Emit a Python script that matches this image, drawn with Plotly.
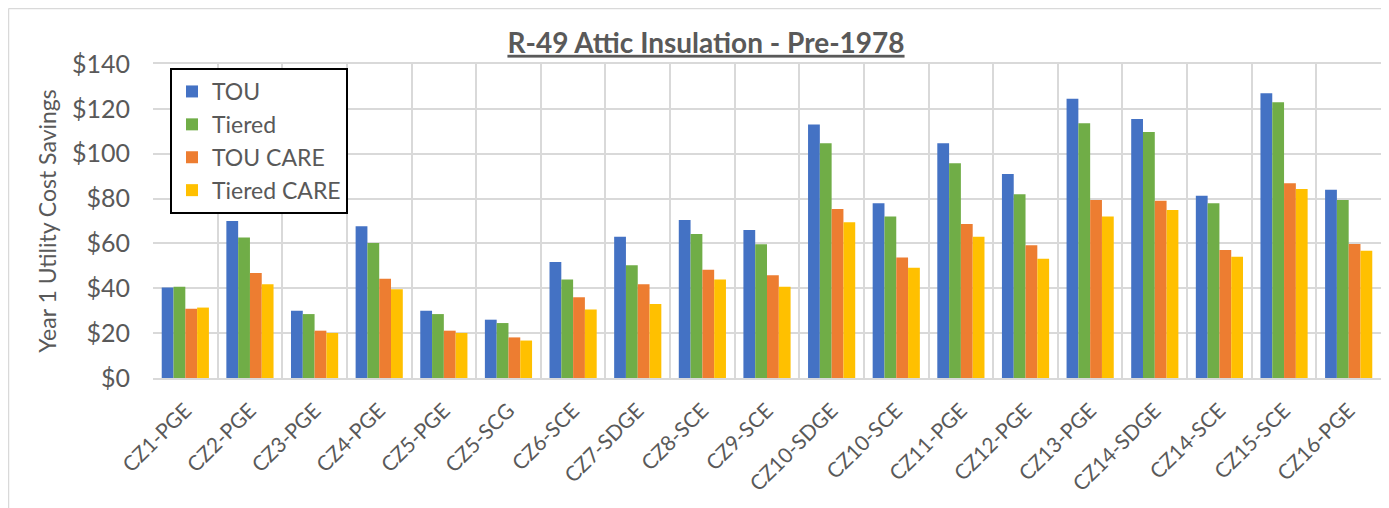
import plotly.graph_objects as go

categories = ["CZ1-PGE", "CZ2-PGE", "CZ3-PGE", "CZ4-PGE", "CZ5-PGE", "CZ5-SCG", "CZ6-SCE",
              "CZ7-SDGE", "CZ8-SCE", "CZ9-SCE", "CZ10-SDGE", "CZ10-SCE", "CZ11-PGE", "CZ12-PGE",
              "CZ13-PGE", "CZ14-SDGE", "CZ14-SCE", "CZ15-SCE", "CZ16-PGE"]
tou = [40.3, 70.0, 30.0, 67.7, 30.0, 26.0, 51.7, 63.0, 70.5, 66.0, 113.0, 77.9, 104.7, 90.9,
       124.5, 115.5, 81.3, 127.0, 83.9]
tiered = [40.7, 62.6, 28.5, 60.2, 28.5, 24.5, 43.9, 50.3, 64.2, 59.6, 104.7, 72.0, 95.8, 81.9,
          113.6, 109.7, 77.9, 123.0, 79.4]
tou_care = [30.9, 46.8, 21.1, 44.3, 21.1, 18.1, 36.0, 41.8, 48.3, 45.8, 75.4, 53.7, 68.7, 59.2,
            79.4, 79.0, 57.1, 86.8, 59.8]
tiered_care = [31.4, 41.8, 20.1, 39.6, 20.1, 16.7, 30.5, 33.0, 43.9, 40.7, 69.4, 49.2, 63.0, 53.2,
               72.0, 74.9, 54.1, 84.3, 56.7]

series = [("TOU", tou, "#4472C4"), ("Tiered", tiered, "#70AD47"),
          ("TOU CARE", tou_care, "#ED7D31"), ("Tiered CARE", tiered_care, "#FFC000")]

fig = go.Figure()
for name, vals, color in series:
    fig.add_trace(go.Bar(x=categories, y=vals, name=name, marker_color=color,
                         marker_line_width=0))

# page body has an 8px default margin: figure starts at (8, 8)
OFF = 8
W, H = 1389 - OFF, 508 - OFF
L, R, T, B = 153 - OFF, 8, 64 - OFF, 130
pw, ph = W - L - R, H - T - B
font = "Lato, Open Sans, sans-serif"
grey = "#595959"

def px_x(x):  # screenshot x -> paper x
    return (x - OFF - L) / pw

def px_y(y):  # screenshot y -> paper y
    return 1 - (y - OFF - T) / ph

fig.update_layout(
    width=W, height=H,
    margin=dict(l=L, r=R, t=T, b=B),
    paper_bgcolor="white", plot_bgcolor="white",
    barmode="group", bargap=0.27, bargroupgap=0,
    font=dict(family=font, color=grey),
    title=dict(text="<b><u>R-49 Attic Insulation - Pre-1978</u></b>", x=(706 - OFF) / W,
               xanchor="center", y=1 - (43 - OFF) / H, yanchor="middle",
               font=dict(size=28, color=grey, family=font)),
    legend=dict(x=px_x(170), y=px_y(68), xanchor="left", yanchor="top",
                bordercolor="black", borderwidth=2, bgcolor="white",
                font=dict(size=23, color=grey, family=font), traceorder="normal",
                itemwidth=30, tracegroupgap=0),
    xaxis=dict(type="category", tickson="boundaries", showgrid=True, gridcolor="#D9D9D9",
               gridwidth=2, ticks="", tickangle=-45, tickfont=dict(size=21, color=grey),
               ticklabelstandoff=10,
               showline=True, linecolor="#D9D9D9", linewidth=2, mirror=True),
    yaxis=dict(range=[0, 140], dtick=20, tickprefix="$", showgrid=True, gridcolor="#D9D9D9",
               gridwidth=2, tickfont=dict(size=25, color=grey), zeroline=False,
               showline=False, ticks="", ticklen=0, ticklabelstandoff=22,
               title=dict(text="Year 1 Utility Cost Savings", font=dict(size=23, color=grey),
                          standoff=8)),
)

# outer chart border (only top and left edges are visible in the crop)
fig.add_shape(type="line", xref="paper", yref="paper",
              x0=px_x(8.5), x1=px_x(1400), y0=px_y(8.5), y1=px_y(8.5),
              line=dict(color="#D9D9D9", width=1.5), layer="below")
fig.add_shape(type="line", xref="paper", yref="paper",
              x0=px_x(8.5), x1=px_x(8.5), y0=px_y(8.5), y1=px_y(520),
              line=dict(color="#D9D9D9", width=1.5), layer="below")

fig.write_html("out.html")
